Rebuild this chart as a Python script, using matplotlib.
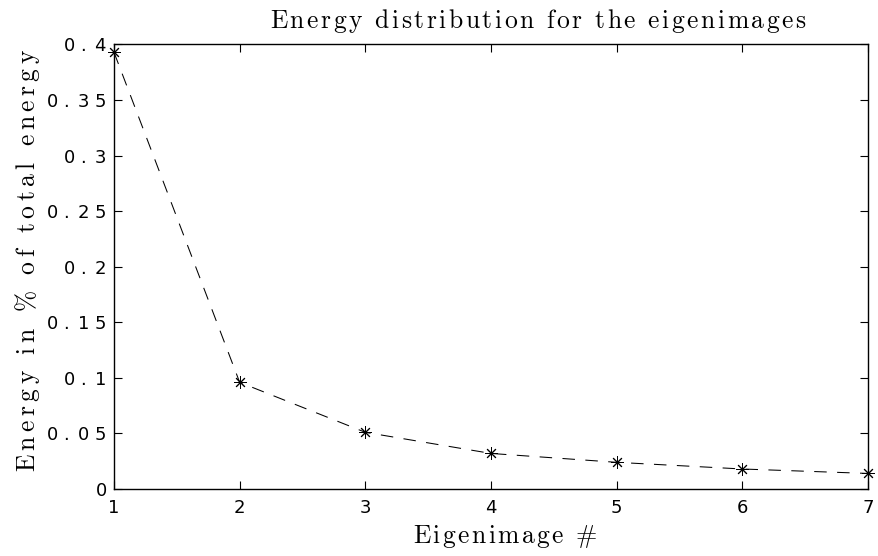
import matplotlib
matplotlib.use("Agg")
import matplotlib.pyplot as plt
from matplotlib.ticker import FixedLocator, FixedFormatter

# ---- data ----
eigenimage = [1, 2, 3, 4, 5, 6, 7]
energy = [0.393, 0.096, 0.051, 0.032, 0.024, 0.018, 0.014]
xticks = [1, 2, 3, 4, 5, 6, 7]
xtick_labels = ['1', '2', '3', '4', '5', '6', '7']
yticks = [0, 0.05, 0.1, 0.15, 0.2, 0.25, 0.3, 0.35, 0.4]
ytick_labels = ['0', '0.05', '0.1', '0.15', '0.2', '0.25', '0.3', '0.35', '0.4']
title = 'Energy distribution for the eigenimages'
xlabel = 'Eigenimage #'
ylabel = 'Energy in % of total energy'

plt.rcParams['mathtext.fontset'] = 'dejavusans'


def spaced(s, sp):
    parts = []
    for ch in s:
        if ch == ' ':
            parts.append(r'\ ')
        elif ch in '%#':
            parts.append(r'\mathrm{\%s}' % ch)
        else:
            parts.append(r'\mathrm{%s}' % ch)
    return '$' + (r'\hspace{%g}' % sp).join(parts) + '$'


W, H = 879, 556
fig = plt.figure(figsize=(W / 100, H / 100), dpi=100)
L, R, T, B = 114, 868, 44.5, 489
ax = fig.add_axes([L / W, 1 - B / H, (R - L) / W, (B - T) / H])

ax.plot(eigenimage, energy, color='black', lw=0.75, linestyle=(0, (12, 10)),
        marker=(8, 2, 0), markersize=9, markeredgewidth=0.7,
        markeredgecolor='black', clip_on=False)

ax.set_xlim(1, 7)
ax.set_ylim(0, 0.4)
ax.xaxis.set_major_locator(FixedLocator(xticks))
ax.xaxis.set_major_formatter(FixedFormatter(xtick_labels))
ax.yaxis.set_major_locator(FixedLocator(yticks))
ax.yaxis.set_major_formatter(FixedFormatter([spaced(t, 0.32) for t in ytick_labels]))

ax.tick_params(direction='in', length=5.8, width=0.8, top=True, right=True,
               labelsize=13, colors='black')
ax.tick_params(axis='x', pad=7)
ax.tick_params(axis='y', pad=5)
for s in ax.spines.values():
    s.set_linewidth(1.0)

tfs = 18.4
fig.text(270 / W, 1 - 28 / H, spaced(title, 0.115), fontsize=tfs, math_fontfamily='cm',
         ha='left', va='baseline')
fig.text(413 / W, 1 - 543 / H, spaced(xlabel, 0.11), fontsize=tfs, math_fontfamily='cm',
         ha='left', va='baseline')
fig.text(35 / W, 1 - 472 / H, spaced(ylabel, 0.2), fontsize=tfs, math_fontfamily='cm',
         ha='left', va='baseline', rotation=90, rotation_mode='anchor')

fig.savefig('out.png', dpi=100)
